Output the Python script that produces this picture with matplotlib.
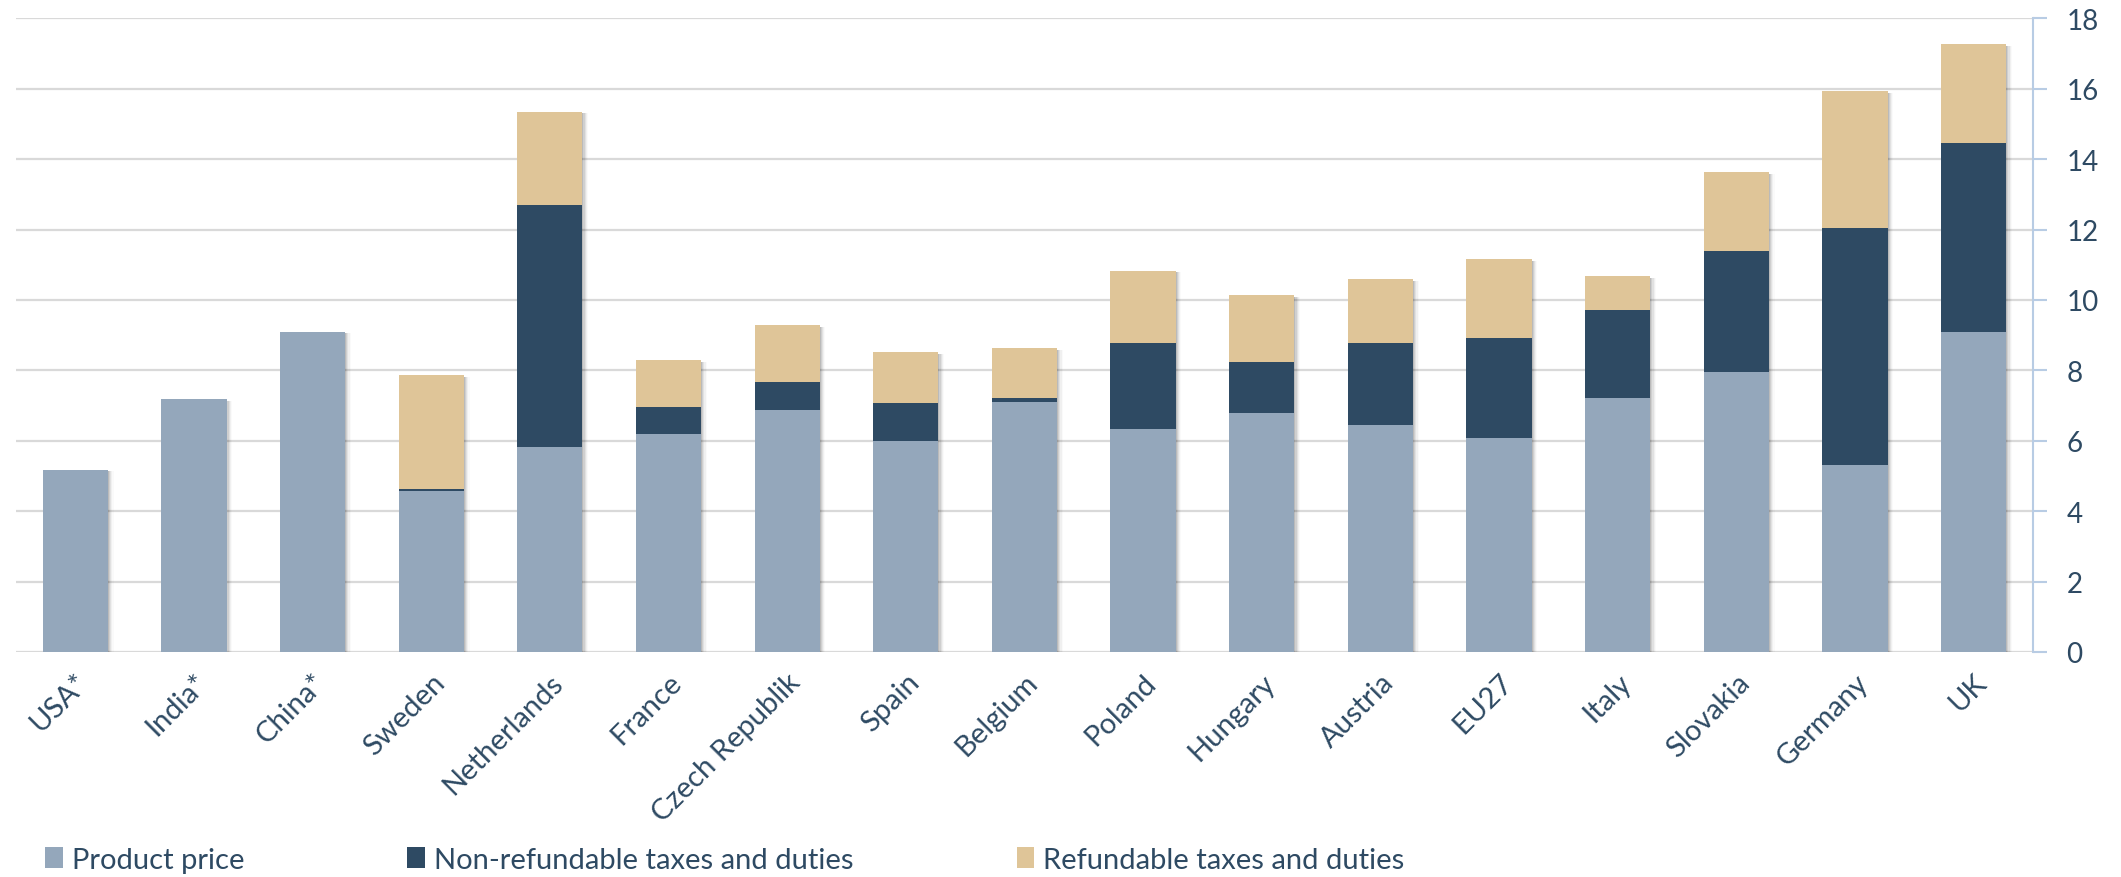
import numpy as np
import matplotlib
matplotlib.use("Agg")
import matplotlib.pyplot as plt

# data
countries = ["USA*", "India*", "China*", "Sweden", "Netherlands", "France",
             "Czech Republik", "Spain", "Belgium", "Poland", "Hungary",
             "Austria", "EU27", "Italy", "Slovakia", "Germany", "UK"]
product_price = [5.18, 7.18, 9.10, 4.57, 5.83, 6.18, 6.87, 5.99, 7.10, 6.33,
                 6.79, 6.45, 6.07, 7.22, 7.95, 5.30, 9.10]
non_refundable = [0, 0, 0, 0.06, 6.87, 0.77, 0.81, 1.07, 0.12, 2.46,
                  1.46, 2.34, 2.84, 2.49, 3.45, 6.75, 5.37]
refundable = [0, 0, 0, 3.24, 2.65, 1.34, 1.61, 1.46, 1.42, 2.04,
              1.88, 1.81, 2.26, 0.96, 2.23, 3.88, 2.80]

c_prod = "#94A7BB"
c_non = "#2E4A63"
c_ref = "#DFC598"
c_text = "#2E4A63"

plt.rcParams['font.family'] = ['Lato', 'DejaVu Sans']

fig = plt.figure(figsize=(21.21, 8.78), dpi=100)
ax = fig.add_axes([0.0075, 0.2563, 0.951, 0.7217])

x = np.arange(len(countries))
w = 0.55
totals = np.array(product_price) + np.array(non_refundable) + np.array(refundable)

# soft drop shadow behind each stack
for off, a in [(0.004, 0.10), (0.009, 0.08), (0.014, 0.06), (0.019, 0.04), (0.024, 0.02)]:
    ax.bar(x + off * 2, totals - 0.05, w, bottom=-0.0, color="black", alpha=a,
           zorder=2, linewidth=0)

b1 = ax.bar(x, product_price, w, color=c_prod, zorder=3, label="Product price")
b2 = ax.bar(x, non_refundable, w, bottom=product_price, color=c_non, zorder=3,
            label="Non-refundable taxes and duties")
bottom2 = np.array(product_price) + np.array(non_refundable)
b3 = ax.bar(x, refundable, w, bottom=bottom2, color=c_ref, zorder=3,
            label="Refundable taxes and duties")

ax.set_xlim(-0.5, len(countries) - 0.5)
ax.set_ylim(0, 18)
ax.set_yticks(np.arange(0, 19, 2))
ax.yaxis.tick_right()
ax.yaxis.grid(True, color="#D9D9D9", linewidth=1.6, zorder=0)
ax.set_axisbelow(True)

for s in ("left", "top", "bottom"):
    ax.spines[s].set_visible(False)
ax.spines["right"].set_color("#B8CCE4")
ax.spines["right"].set_linewidth(1.5)
ax.tick_params(axis="y", colors="#B8CCE4", length=10, width=1.5, pad=14,
               labelsize=20, labelcolor=c_text)

ax.set_xticks(x)
ax.set_xticklabels(countries, rotation=45, ha="right", rotation_mode="anchor",
                   fontsize=21, color=c_text)
ax.tick_params(axis="x", length=0, pad=12)

fig.legend(handles=[b1, b2, b3], loc="lower left", bbox_to_anchor=(0.009, -0.025),
           ncol=3, frameon=False, fontsize=21, labelcolor=c_text,
           handlelength=0.6, handleheight=0.7, handletextpad=0.3, columnspacing=5.6)

fig.savefig("out.png", dpi=100)
